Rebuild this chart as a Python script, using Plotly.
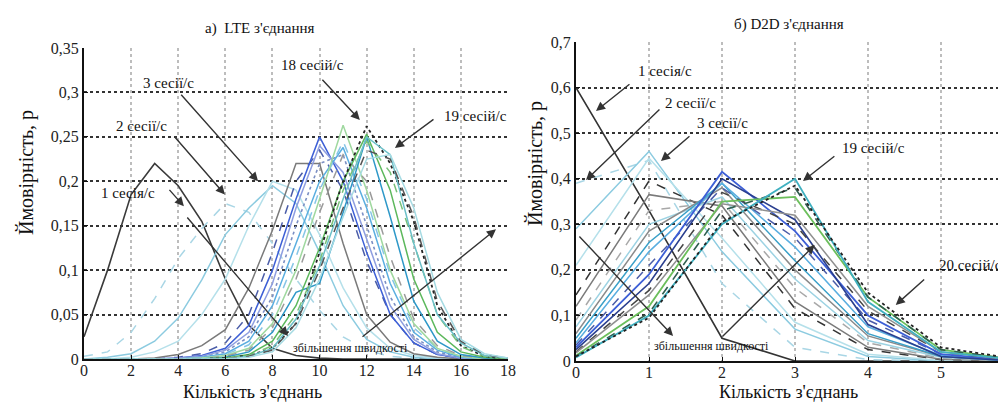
import plotly.graph_objects as go

# ---------------- data ----------------
lte_x = list(range(0, 19))
lte_s1 = [0.025, 0.10, 0.185, 0.22, 0.195, 0.155, 0.09, 0.038, 0.012, 0.004, 0.001, 0, 0, 0, 0, 0, 0, 0, 0]
lte_s2 = [0.003, 0.008, 0.03, 0.068, 0.113, 0.147, 0.175, 0.165, 0.13, 0.09, 0.055, 0.025, 0.01, 0.003, 0.001, 0, 0, 0, 0]
lte_s3 = [0, 0.002, 0.006, 0.02, 0.046, 0.089, 0.14, 0.17, 0.195, 0.175, 0.12, 0.06, 0.022, 0.008, 0.002, 0, 0, 0, 0]
lte_s4 = [0, 0, 0.002, 0.008, 0.02, 0.05, 0.09, 0.15, 0.2, 0.19, 0.14, 0.08, 0.035, 0.012, 0.004, 0.001, 0, 0, 0]
lte_s5 = [0, 0, 0, 0.001, 0.005, 0.015, 0.033, 0.08, 0.145, 0.22, 0.22, 0.13, 0.05, 0.019, 0.006, 0.002, 0, 0, 0]
lte_s6 = [0, 0, 0, 0, 0.002, 0.006, 0.018, 0.05, 0.12, 0.2, 0.235, 0.19, 0.11, 0.05, 0.018, 0.005, 0.001, 0, 0]
lte_s7 = [0, 0, 0, 0, 0.001, 0.004, 0.012, 0.038, 0.1, 0.18, 0.25, 0.2, 0.12, 0.05, 0.018, 0.005, 0.001, 0, 0]
lte_s8 = [0, 0, 0, 0, 0.001, 0.003, 0.01, 0.03, 0.085, 0.17, 0.24, 0.21, 0.135, 0.06, 0.022, 0.006, 0.001, 0, 0]
lte_s9 = [0, 0, 0, 0, 0, 0.002, 0.008, 0.025, 0.07, 0.15, 0.22, 0.23, 0.15, 0.07, 0.025, 0.008, 0.002, 0, 0]
lte_s10 = [0, 0, 0, 0, 0, 0.002, 0.006, 0.02, 0.06, 0.13, 0.2, 0.238, 0.17, 0.085, 0.03, 0.01, 0.002, 0, 0]
lte_s11 = [0, 0, 0, 0, 0, 0.001, 0.005, 0.016, 0.05, 0.115, 0.19, 0.245, 0.18, 0.095, 0.035, 0.012, 0.003, 0, 0]
lte_s12 = [0, 0, 0, 0, 0, 0.001, 0.004, 0.012, 0.04, 0.1, 0.18, 0.263, 0.19, 0.1, 0.04, 0.012, 0.003, 0, 0]
lte_s13 = [0, 0, 0, 0, 0, 0, 0.003, 0.01, 0.035, 0.09, 0.165, 0.23, 0.2, 0.115, 0.045, 0.015, 0.004, 0.001, 0]
lte_s14 = [0, 0, 0, 0, 0, 0, 0.002, 0.008, 0.03, 0.075, 0.085, 0.165, 0.25, 0.16, 0.065, 0.02, 0.005, 0.001, 0]
lte_s15 = [0, 0, 0, 0, 0, 0, 0.001, 0.005, 0.02, 0.06, 0.125, 0.2, 0.253, 0.19, 0.09, 0.03, 0.008, 0.002, 0]
lte_s16 = [0, 0, 0, 0, 0, 0, 0.001, 0.004, 0.012, 0.04, 0.12, 0.2, 0.262, 0.22, 0.155, 0.06, 0.015, 0.003, 0]
lte_s17 = [0, 0, 0, 0, 0, 0, 0.001, 0.004, 0.015, 0.05, 0.11, 0.19, 0.245, 0.21, 0.13, 0.05, 0.014, 0.003, 0]
lte_s18 = [0, 0, 0, 0, 0, 0, 0, 0.003, 0.012, 0.045, 0.105, 0.18, 0.25, 0.23, 0.13, 0.05, 0.018, 0.004, 0.001]
lte_s19 = [0, 0, 0, 0, 0, 0, 0, 0.003, 0.01, 0.04, 0.1, 0.17, 0.235, 0.225, 0.16, 0.065, 0.02, 0.005, 0.001]
lte_s20 = [0, 0, 0, 0, 0, 0, 0, 0.002, 0.008, 0.035, 0.09, 0.16, 0.225, 0.23, 0.17, 0.075, 0.022, 0.006, 0.001]

d2d_x = list(range(0, 7))
d2d_s1 = [0.60, 0.33, 0.05, 0.0, 0, 0, 0]
d2d_s2 = [0.39, 0.44, 0.17, 0.03, 0.003, 0, 0]
d2d_s3 = [0.29, 0.46, 0.24, 0.07, 0.01, 0, 0]
d2d_s4 = [0.21, 0.445, 0.27, 0.085, 0.015, 0.001, 0]
d2d_s5 = [0.145, 0.395, 0.32, 0.115, 0.025, 0.003, 0]
d2d_s6 = [0.12, 0.365, 0.34, 0.13, 0.03, 0.004, 0]
d2d_s7 = [0.09, 0.33, 0.35, 0.16, 0.04, 0.006, 0]
d2d_s8 = [0.075, 0.30, 0.36, 0.18, 0.045, 0.008, 0]
d2d_s9 = [0.06, 0.285, 0.38, 0.2, 0.055, 0.01, 0]
d2d_s10 = [0.05, 0.26, 0.39, 0.22, 0.06, 0.01, 0]
d2d_s11 = [0.04, 0.24, 0.39, 0.25, 0.075, 0.012, 0]
d2d_s12 = [0.035, 0.21, 0.38, 0.27, 0.09, 0.015, 0.001]
d2d_s13 = [0.03, 0.19, 0.415, 0.285, 0.10, 0.015, 0.001]
d2d_s14 = [0.025, 0.17, 0.40, 0.31, 0.08, 0.01, 0]
d2d_s15 = [0.02, 0.155, 0.37, 0.30, 0.11, 0.02, 0.002]
d2d_s16 = [0.018, 0.145, 0.345, 0.32, 0.12, 0.02, 0.002]
d2d_s17 = [0.012, 0.12, 0.35, 0.36, 0.14, 0.025, 0.003]
d2d_s18 = [0.01, 0.105, 0.33, 0.38, 0.14, 0.025, 0.003]
d2d_s19 = [0.008, 0.10, 0.30, 0.40, 0.13, 0.02, 0.003]
d2d_s20 = [0.01, 0.095, 0.305, 0.385, 0.15, 0.03, 0.005]

lte_yticks = [0, 0.05, 0.1, 0.15, 0.2, 0.25, 0.3, 0.35]
lte_yticktext = ["0", "0,05", "0,1", "0,15", "0,2", "0,25", "0,3", "0,35"]
lte_xticks = [0, 2, 4, 6, 8, 10, 12, 14, 16, 18]
d2d_yticks = [0, 0.1, 0.2, 0.3, 0.4, 0.5, 0.6, 0.7]
d2d_yticktext = ["0", "0,1", "0,2", "0,3", "0,4", "0,5", "0,6", "0,7"]
d2d_xticks = [0, 1, 2, 3, 4, 5, 6]

lte_series = [lte_s1, lte_s2, lte_s3, lte_s4, lte_s5, lte_s6, lte_s7, lte_s8, lte_s9, lte_s10,
              lte_s11, lte_s12, lte_s13, lte_s14, lte_s15, lte_s16, lte_s17, lte_s18, lte_s19, lte_s20]
d2d_series = [d2d_s1, d2d_s2, d2d_s3, d2d_s4, d2d_s5, d2d_s6, d2d_s7, d2d_s8, d2d_s9, d2d_s10,
              d2d_s11, d2d_s12, d2d_s13, d2d_s14, d2d_s15, d2d_s16, d2d_s17, d2d_s18, d2d_s19, d2d_s20]

# ---------------- styles ----------------
lte_styles = [
    ("#3a3a3a", "solid", 1.6), ("#a9d6e5", "dash", 1.5), ("#8ccbe0", "solid", 1.5),
    ("#b5e0ea", "solid", 1.5), ("#7a7a7a", "solid", 1.5), ("#4a5ca8", "dash", 1.5),
    ("#3d5fd6", "solid", 1.5), ("#8e9ee0", "solid", 1.5), ("#7b8fc4", "dot", 1.6),
    ("#5aaee0", "solid", 1.5), ("#86c5e6", "dash", 1.5), ("#9fd89f", "solid", 1.5),
    ("#9a9a9a", "dash", 1.5), ("#2e98c8", "solid", 1.5), ("#5cb85c", "solid", 1.5),
    ("#222222", "dot", 1.8), ("#78c078", "dash", 1.5), ("#6cc0c8", "solid", 1.5),
    ("#555555", "dash", 1.5), ("#a6dbe3", "solid", 1.5),
]
d2d_styles = [
    ("#333333", "solid", 1.6), ("#a9d6e5", "dash", 1.5), ("#8ccbe0", "solid", 1.5),
    ("#b5e0ea", "solid", 1.5), ("#333333", "dash", 1.5), ("#7a7a7a", "solid", 1.5),
    ("#a8a8a8", "dash", 1.5), ("#9dd3e3", "solid", 1.5), ("#8a8a8a", "solid", 1.5),
    ("#3aa0c8", "solid", 1.5), ("#5aaee0", "solid", 1.5), ("#4a5ca8", "dash", 1.5),
    ("#3d5fd6", "solid", 1.8), ("#2a3f8f", "solid", 1.6), ("#444444", "dash", 1.5),
    ("#909090", "solid", 1.5), ("#6cbf5c", "solid", 1.8), ("#2f5f4f", "dash", 1.6),
    ("#40b0c0", "solid", 1.8), ("#222222", "dot", 1.8),
]

FONT = "Liberation Serif"
W, H = 1006, 403

fig = go.Figure()
for vals, (c, d, w) in zip(lte_series, lte_styles):
    fig.add_trace(go.Scatter(x=lte_x, y=vals, mode="lines", line=dict(color=c, dash=d, width=w),
                             xaxis="x", yaxis="y", showlegend=False, hoverinfo="skip"))
for vals, (c, d, w) in zip(d2d_series, d2d_styles):
    fig.add_trace(go.Scatter(x=d2d_x, y=vals, mode="lines", line=dict(color=c, dash=d, width=w),
                             xaxis="x2", yaxis="y2", showlegend=False, hoverinfo="skip"))

def px2paper(px, py):
    return px / W, 1 - py / H

xax = dict(showline=True, linecolor="#111", linewidth=1.5, ticks="inside", ticklen=4, tickcolor="#111",
           showgrid=True, gridcolor="#bdbdbd", griddash="dot", gridwidth=1.5, zeroline=False,
           tickfont=dict(family=FONT, size=16, color="#222"), automargin=False,
           ticklabelstandoff=-4)
yax = dict(showline=True, linecolor="#111", linewidth=2, ticks="inside", ticklen=4, tickcolor="#111",
           showgrid=True, gridcolor="#333", griddash="dot", gridwidth=2, zeroline=False,
           tickfont=dict(family=FONT, size=16, color="#222"), automargin=False)

fig.update_layout(
    width=W, height=H, margin=dict(l=0, r=0, t=0, b=0),
    paper_bgcolor="white", plot_bgcolor="white",
    font=dict(family=FONT),
    xaxis=dict(xax, domain=[76 / W, 500 / W], range=[0, 18], tickvals=lte_xticks, anchor="y"),
    yaxis=dict(yax, domain=[1 - 351 / H, 1 - 40 / H], range=[0, 0.35], tickvals=lte_yticks,
               ticktext=lte_yticktext, anchor="x"),
    xaxis2=dict(xax, domain=[568 / W, 1.0], range=[0, 6], tickvals=d2d_xticks, anchor="y2"),
    yaxis2=dict(yax, domain=[1 - 353 / H, 1 - 34 / H], range=[0, 0.7], tickvals=d2d_yticks,
                ticktext=d2d_yticktext, anchor="x2"),
)

ann = []
def ptext(txt, px, py, size, angle=0):
    x, y = px2paper(px, py)
    ann.append(dict(text=txt, x=x, y=y, xref="paper", yref="paper", showarrow=False,
                    textangle=angle, font=dict(family=FONT, size=size, color="#111"),
                    xanchor="center", yanchor="middle"))

def dtext(txt, x, y, axis, size):
    ann.append(dict(text=txt, x=x, y=y, xref="x" + axis, yref="y" + axis, showarrow=False,
                    font=dict(family=FONT, size=size, color="#111"), xanchor="center", yanchor="middle"))

def arrow(x0, y0, x1, y1, axis):
    ann.append(dict(text="", x=x1, y=y1, ax=x0, ay=y0, xref="x" + axis, yref="y" + axis,
                    axref="x" + axis, ayref="y" + axis, showarrow=True, arrowhead=2,
                    arrowsize=1.3, arrowwidth=1.4, arrowcolor="#333"))

# titles
ptext("а)  LTE з'єднання", 252, 20, 15)
ptext("б) D2D з'єднання", 781, 17, 15)
ptext("Кількість з'єднань", 244, 384, 18)
ptext("Кількість з'єднань", 780, 384, 18)
ptext("Ймовірність, р", 18, 165, 20, -90)
ptext("Ймовірність, р", 527, 156, 20, -90)

# LTE annotations
dtext("3 сесії/с", 3.57, 0.311, "", 15)
arrow(4.07, 0.299, 7.39, 0.200, "")
dtext("2 сесії/с", 2.42, 0.262, "", 15)
arrow(3.78, 0.252, 5.98, 0.185, "")
dtext("1 сесія/с", 1.87, 0.187, "", 15)
arrow(3.57, 0.192, 4.24, 0.172, "")
dtext("18 сесій/с", 9.72, 0.331, "", 15)
arrow(10.06, 0.316, 11.71, 0.269, "")
dtext("19 сесій/с", 16.64, 0.2735, "", 15)
arrow(14.9, 0.271, 13.2, 0.2375, "")
arrow(11.76, 0.0236, 17.49, 0.146, "")
arrow(4.33, 0.161, 8.66, 0.026, "")
dtext("збільшення швидкості", 11.33, 0.0124, "", 12)

# D2D annotations
dtext("1 сесія/с", 1.22, 0.636, "2", 15)
arrow(0.753, 0.61, 0.274, 0.5486, "2")
dtext("2 сесії/с", 1.575, 0.566, "2", 15)
arrow(1.164, 0.555, 0.137, 0.397, "2")
dtext("3 сесії/с", 2.01, 0.522, "2", 15)
arrow(1.575, 0.496, 1.164, 0.439, "2")
dtext("19 сесій/с", 4.07, 0.467, "2", 15)
arrow(3.56, 0.452, 3.11, 0.395, "2")
dtext("20 сесій/с", 5.41, 0.211, "2", 15)
arrow(4.79, 0.182, 4.38, 0.123, "2")
arrow(0.027, 0.2765, 1.33, 0.055, "2")
arrow(1.986, 0.0505, 3.27, 0.2545, "2")
dtext("збільшення швидкості", 1.85, 0.033, "2", 12)

fig.update_layout(annotations=ann)
fig.write_html("out.html")
